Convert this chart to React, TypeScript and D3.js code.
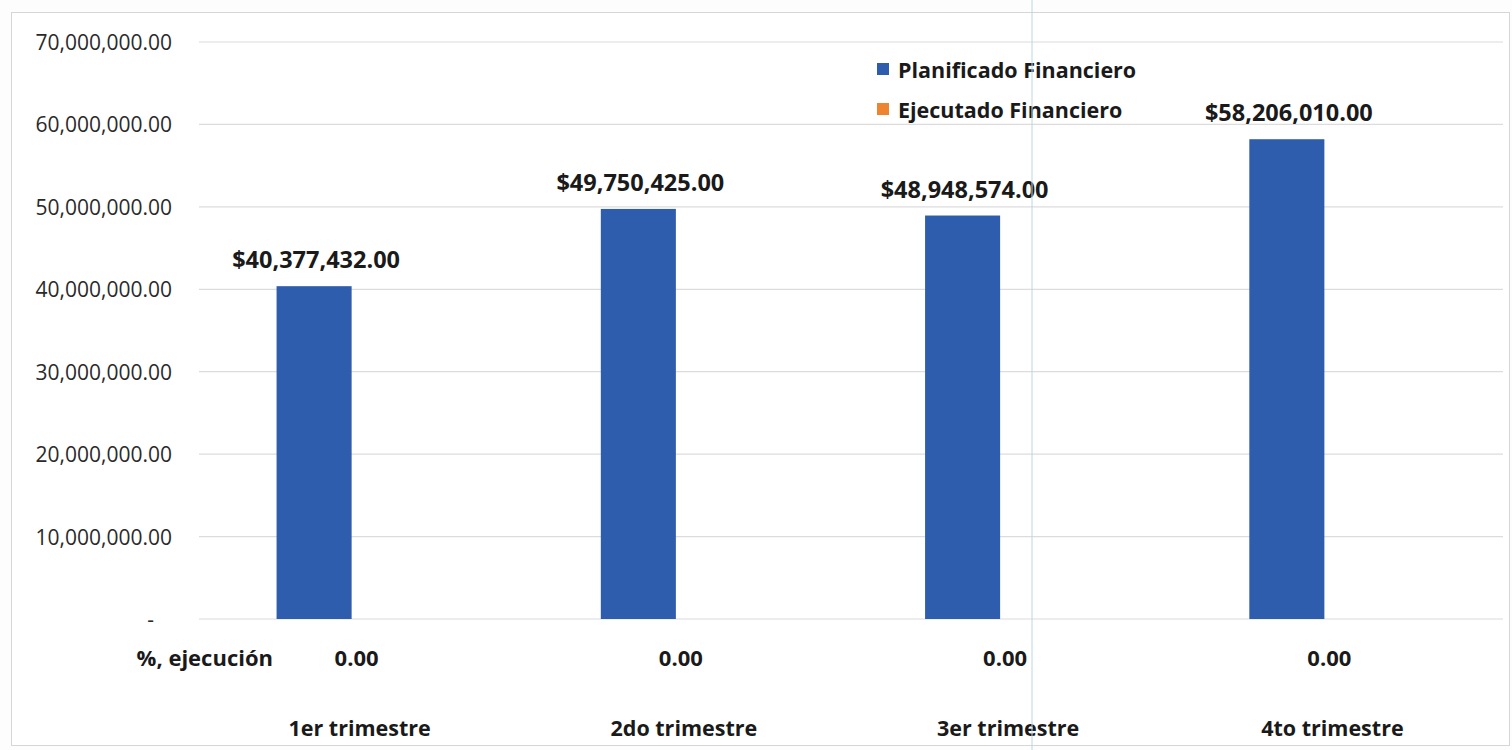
import React from "react";
import * as d3 from "d3";

const categories = ["1er trimestre", "2do trimestre", "3er trimestre", "4to trimestre"];
const planificado = [40377432, 49750425, 48948574, 58206010];
const ejecutado = [0, 0, 0, 0];
const ejecucion = [0, 0, 0, 0];
const yTicks = [0, 10000000, 20000000, 30000000, 40000000, 50000000, 60000000, 70000000];
const seriesNames = ["Planificado Financiero", "Ejecutado Financiero"];
const seriesColors = ["#2F5DAD", "#EE8430"];

const W = 1512;
const H = 750;
const FONT = "'Open Sans', 'Noto Sans', sans-serif";

export default function App() {
  const y = d3.scaleLinear().domain([0, 70000000]).range([619, 42]);
  const x = d3.scaleBand<string>().domain(categories).range([189.5, 1486.5]).paddingInner(0).paddingOuter(0);
  const x1 = d3.scaleBand<string>().domain(["p", "e"]).range([0, x.bandwidth()]).paddingInner(0).paddingOuter(1.16);
  const fmtTick = (v: number) => (v === 0 ? "-" : d3.format(",.2f")(v));
  const fmtVal = (v: number) => "$" + d3.format(",.2f")(v);
  const data = categories.map((c, i) => ({ c, p: planificado[i], e: ejecutado[i], pct: ejecucion[i] }));

  return (
    <svg
      width={W}
      height={H}
      style={{ position: "fixed", left: 0, top: 0, background: "#fff" }}
      fontFamily={FONT}
    >
      <rect x={0} y={0} width={W} height={H} fill="#fdfdfd" />
      <rect x={11.5} y={12.5} width={1498} height={733} fill="#fff" stroke="#d6d6d6" strokeWidth={1} />
      {/* gridlines */}
      {yTicks.map((t) => (
        <line key={"g" + t} x1={199} x2={1503} y1={y(t)} y2={y(t)} stroke="#dcdcdc" strokeWidth={1.2} />
      ))}
      {/* y tick labels */}
      {yTicks.map((t) => (
        <text
          key={"t" + t}
          x={t === 0 ? 154 : 172}
          y={y(t)}
          textAnchor="end"
          dominantBaseline="central"
          fontSize={21}
          fill="#2a2a2a"
        >
          {fmtTick(t)}
        </text>
      ))}
      {/* bars */}
      {data.map((d) => (
        <g key={d.c} transform={`translate(${x(d.c)},0)`}>
          <rect x={x1("p")} y={y(d.p)} width={x1.bandwidth()} height={y(0) - y(d.p)} fill={seriesColors[0]} />
          <rect x={x1("e")} y={y(d.e)} width={x1.bandwidth()} height={y(0) - y(d.e)} fill={seriesColors[1]} />
          <text
            x={(x1("p") as number) + x1.bandwidth() / 2 + 2}
            y={y(d.p) - 27}
            textAnchor="middle"
            dominantBaseline="central"
            fontSize={23.5}
            fontWeight={700}
            fill="#1a1a1a"
          >
            {fmtVal(d.p)}
          </text>
          <text
            x={x.bandwidth() / 2 + 5}
            y={657}
            textAnchor="middle"
            dominantBaseline="central"
            fontSize={22}
            fontWeight={700}
            fill="#1a1a1a"
          >
            {d3.format(".2f")(d.pct)}
          </text>
          <text
            x={x.bandwidth() / 2 + 8}
            y={727}
            textAnchor="middle"
            dominantBaseline="central"
            fontSize={21.5}
            fontWeight={700}
            fill="#1a1a1a"
          >
            {d.c}
          </text>
        </g>
      ))}
      <text x={273} y={657} textAnchor="end" dominantBaseline="central" fontSize={22} fontWeight={700} fill="#1a1a1a">
        %, ejecución
      </text>
      {/* legend */}
      {seriesNames.map((s, i) => (
        <g key={s} transform={`translate(877,${63 + i * 40})`}>
          <rect x={0} y={0} width={12} height={12} fill={seriesColors[i]} />
          <text x={21} y={6} dominantBaseline="central" fontSize={21.5} fontWeight={700} fill="#1a1a1a">
            {s}
          </text>
        </g>
      ))}
      {/* scan fold line */}
      <line x1={1032} x2={1032} y1={0} y2={H} stroke="#bcd7e2" strokeWidth={1} />
    </svg>
  );
}
